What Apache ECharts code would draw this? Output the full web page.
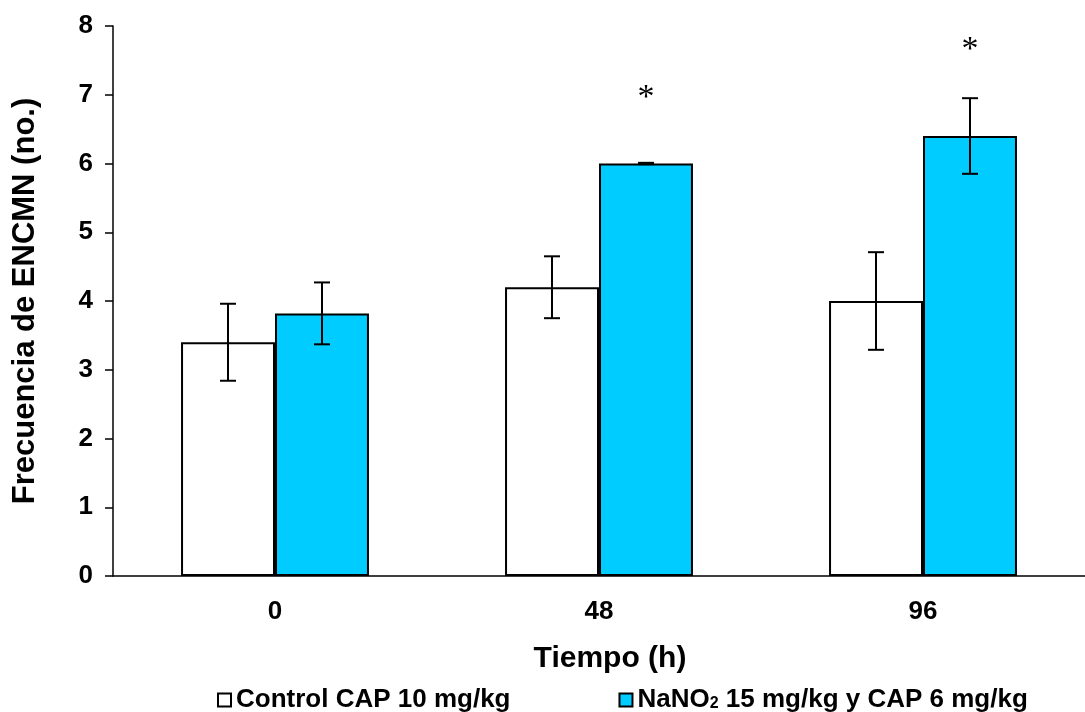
<!DOCTYPE html>
<html>
<head>
<meta charset="utf-8">
<script src="https://cdn.jsdelivr.net/npm/echarts@6/dist/echarts.min.js"></script>
<style>
html, body { margin: 0; padding: 0; background: #fff; }
#chart { width: 1085px; height: 712px; }
</style>
</head>
<body>
<div id="chart"></div>
<script>
// datos
var tiempos = ['0', '48', '96']
var controlVals = [3.4, 4.2, 4.0]
var controlErr = [0.56, 0.45, 0.71]
var nitritoVals = [3.82, 6.0, 6.4]
var nitritoErr = [0.45, 0.01, 0.55]
var asteriscos = [null, 6.95, 7.65]

var BAR_FRAC = 0.29
var FONT = 'Liberation Sans, Arial, sans-serif'

function errData (vals, errs) {
  var out = []
  for (let i = 0; i < vals.length; i++) {
    out.push([i, vals[i] - errs[i], vals[i] + errs[i]])
  }
  return out
}

function errRender (sign) {
  return function (params, api) {
    var x = api.value(0)
    var lo = api.coord([x, api.value(1)])
    var hi = api.coord([x, api.value(2)])
    var band = api.size([1, 0])[0]
    var dx = sign * band * BAR_FRAC / 2
    var cx = lo[0] + dx
    var cap = 8
    var st = { stroke: '#000', lineWidth: 2 }
    return {
      type: 'group',
      children: [
        { type: 'line', shape: { x1: cx, y1: lo[1], x2: cx, y2: hi[1] }, style: st },
        { type: 'line', shape: { x1: cx - cap, y1: lo[1], x2: cx + cap, y2: lo[1] }, style: st },
        { type: 'line', shape: { x1: cx - cap, y1: hi[1], x2: cx + cap, y2: hi[1] }, style: st }
      ]
    }
  }
}

var starData = []
for (let i = 0; i < asteriscos.length; i++) {
  if (asteriscos[i] != null) starData.push([i, asteriscos[i]])
}

var chart = echarts.init(document.getElementById('chart'))
chart.setOption({
  backgroundColor: '#fff',
  animation: false,
  grid: { left: 113, right: 0, top: 26, bottom: 136 },
  legend: {
    left: 212,
    top: 682,
    icon: 'rect',
    itemWidth: 13,
    itemHeight: 13,
    itemGap: 108,
    data: ['Control CAP 10 mg/kg', 'NaNO2 15 mg/kg y CAP 6 mg/kg'],
    formatter: function (name) {
      if (name.indexOf('NaNO2') === 0) {
        return '{b|NaNO}{s|2}{b|' + name.slice(5) + '}'
      }
      return '{b|' + name + '}'
    },
    textStyle: {
      rich: {
        b: { fontFamily: FONT, fontWeight: 'bold', fontSize: 26, color: '#000' },
        s: { fontFamily: FONT, fontWeight: 'bold', fontSize: 16, color: '#000', padding: [8, 0, 0, 0] }
      }
    }
  },
  xAxis: {
    type: 'category',
    data: tiempos,
    name: 'Tiempo (h)',
    nameLocation: 'middle',
    nameGap: 68,
    nameTextStyle: { fontFamily: FONT, fontWeight: 'bold', fontSize: 30, color: '#000', padding: [0, 0, 0, 22] },
    axisLine: { lineStyle: { color: '#000', width: 1.5 } },
    axisTick: { length: 8, lineStyle: { color: '#000', width: 1.5 } },
    axisLabel: { margin: 23, fontFamily: FONT, fontWeight: 'bold', fontSize: 26, color: '#000' }
  },
  yAxis: {
    type: 'value',
    min: 0,
    max: 8,
    interval: 1,
    name: 'Frecuencia de ENCMN (no.)',
    nameLocation: 'middle',
    nameGap: 72,
    nameTextStyle: { fontFamily: FONT, fontWeight: 'bold', fontSize: 31, color: '#000' },
    axisLine: { show: true, lineStyle: { color: '#000', width: 1.5 } },
    axisTick: { show: true, length: 8, lineStyle: { color: '#000', width: 1.5 } },
    axisLabel: { margin: 20, fontFamily: FONT, fontWeight: 'bold', fontSize: 26, color: '#000' },
    splitLine: { show: false }
  },
  series: [
    {
      name: 'Control CAP 10 mg/kg',
      type: 'bar',
      barWidth: (BAR_FRAC * 100) + '%',
      barGap: '0%',
      data: controlVals,
      itemStyle: { color: '#fff', borderColor: '#000', borderWidth: 2 }
    },
    {
      name: 'NaNO2 15 mg/kg y CAP 6 mg/kg',
      type: 'bar',
      barWidth: (BAR_FRAC * 100) + '%',
      barGap: '0%',
      data: nitritoVals,
      itemStyle: { color: '#00CCFF', borderColor: '#000', borderWidth: 2 }
    },
    {
      type: 'custom',
      renderItem: errRender(-1),
      data: errData(controlVals, controlErr),
      encode: { x: 0, y: [1, 2] },
      z: 10
    },
    {
      type: 'custom',
      renderItem: errRender(1),
      data: errData(nitritoVals, nitritoErr),
      encode: { x: 0, y: [1, 2] },
      z: 10
    },
    {
      type: 'custom',
      data: starData,
      encode: { x: 0, y: 1 },
      renderItem: function (params, api) {
        var p = api.coord([api.value(0), api.value(1)])
        var band = api.size([1, 0])[0]
        return {
          type: 'text',
          x: p[0] + band * BAR_FRAC / 2,
          y: p[1],
          style: {
            text: '*',
            fontFamily: 'Liberation Serif, Times New Roman, serif',
            fontSize: 34,
            fill: '#000',
            align: 'center',
            verticalAlign: 'middle'
          }
        }
      },
      z: 10
    }
  ]
})
</script>
</body>
</html>
